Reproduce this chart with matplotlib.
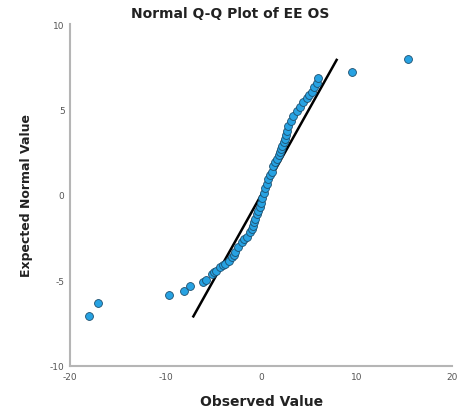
import matplotlib.pyplot as plt

plt.rcParams["axes.unicode_minus"] = False

# observed values vs expected normal quantiles
observed = [-18.0, -17.07, -9.63, -8.06, -7.43, -6.07, -5.76, -5.16,
            -4.99, -4.71, -4.29, -3.98, -3.77, -3.42, -3.07, -2.88, -2.72,
            -2.38, -2.02, -1.78, -1.50, -1.15, -0.99, -0.81, -0.73, -0.63,
            -0.47, -0.28, -0.16, -0.05, 0.07, 0.26, 0.42, 0.58, 0.76, 0.94,
            1.12, 1.29, 1.47, 1.64, 1.83, 1.99, 2.09, 2.17, 2.36, 2.51, 2.62,
            2.69, 2.86, 3.11, 3.38, 3.74, 4.08, 4.43, 4.79, 5.03, 5.31, 5.55,
            5.83, 6.00, 9.53, 15.42]
expected = [-7.08, -6.30, -5.85, -5.60, -5.34, -5.10, -4.97, -4.62,
            -4.52, -4.44, -4.23, -4.12, -4.04, -3.84, -3.64, -3.50, -3.35,
            -3.06, -2.77, -2.60, -2.47, -2.18, -1.99, -1.80, -1.58, -1.40,
            -1.14, -0.92, -0.70, -0.44, -0.18, 0.12, 0.41, 0.64, 0.94, 1.14,
            1.33, 1.71, 1.90, 2.11, 2.31, 2.50, 2.69, 2.88, 3.07, 3.27, 3.50,
            3.76, 4.05, 4.35, 4.64, 4.93, 5.16, 5.42, 5.65, 5.82, 6.00, 6.29,
            6.55, 6.82, 7.19, 7.95]

# reference line
line_x = [-7.1, 7.9]
line_y = [-7.1, 7.9]

fig = plt.figure(figsize=(4.74, 4.10), dpi=100)
ax = fig.add_axes([0.148, 0.105, 0.806, 0.834])

ax.plot(line_x, line_y, color="black", linewidth=1.8, zorder=2)
ax.scatter(observed, expected, s=32, color="#27a2e2", edgecolors="#1d4f6e",
           linewidths=0.6, zorder=3)

ax.set_xlim(-20, 20)
ax.set_ylim(-10, 10)
ax.set_xticks([-20, -10, 0, 10, 20])
ax.set_yticks([-10, -5, 0, 5, 10])
ax.tick_params(length=0, labelsize=6.5, labelcolor="#555555", pad=4)

for side in ["top", "right"]:
    ax.spines[side].set_visible(False)
for side in ["left", "bottom"]:
    ax.spines[side].set_color("#b5b5b5")
    ax.spines[side].set_linewidth(1.5)

ax.set_title("Normal Q-Q Plot of EE OS", fontsize=10, fontweight="bold",
             color="#222222", pad=5, x=0.42)
ax.set_xlabel("Observed Value", fontsize=10, fontweight="bold",
              color="#222222", labelpad=10)
ax.set_ylabel("Expected Normal Value", fontsize=9, fontweight="bold",
              color="#222222", labelpad=12)

plt.savefig("out.png", dpi=100)
